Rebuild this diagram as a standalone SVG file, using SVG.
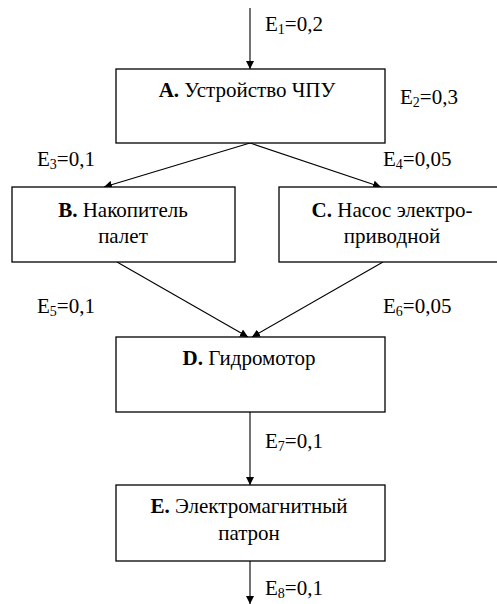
<svg xmlns="http://www.w3.org/2000/svg" width="497" height="604" viewBox="0 0 497 604">
<style>
.box{fill:#fff;stroke:#000;stroke-width:1.3}
.t{font-size:21px;fill:#000}
.s{font-size:14px}
.c{text-anchor:middle}
.ln{stroke:#000;stroke-width:1.1;fill:none}
</style>
<defs>
<marker id="ah" viewBox="0 0 10 10" refX="10" refY="5" markerWidth="8" markerHeight="8" markerUnits="userSpaceOnUse" orient="auto">
<path d="M0,0 L10,5 L0,10 z" fill="#000"/>
</marker>
</defs>
<rect width="497" height="604" fill="#fff"/>
<g id="connectors">
<line class="ln" x1="250" y1="8" x2="250" y2="69" marker-end="url(#ah)"/>
<line class="ln" x1="250" y1="143" x2="104" y2="187" marker-end="url(#ah)"/>
<line class="ln" x1="250" y1="143" x2="381" y2="187" marker-end="url(#ah)"/>
<line class="ln" x1="117" y1="262" x2="248" y2="337" marker-end="url(#ah)"/>
<line class="ln" x1="383" y1="262" x2="252" y2="337" marker-end="url(#ah)"/>
<line class="ln" x1="250" y1="412" x2="250" y2="485" marker-end="url(#ah)"/>
<line class="ln" x1="250" y1="561" x2="250" y2="604" marker-end="url(#ah)"/>
</g>
<g font-family="Liberation Serif, Times New Roman, Times, Tinos, DejaVu Serif, Noto Serif, FreeSerif, serif">
<g id="labels">
<text class="t" x="265" y="31">E<tspan class="s" dy="3">1</tspan><tspan dy="-3">=0,2</tspan></text>
<text class="t" x="400" y="104">E<tspan class="s" dy="3">2</tspan><tspan dy="-3">=0,3</tspan></text>
<text class="t" x="37" y="166">E<tspan class="s" dy="3">3</tspan><tspan dy="-3">=0,1</tspan></text>
<text class="t" x="383" y="166">E<tspan class="s" dy="3">4</tspan><tspan dy="-3">=0,05</tspan></text>
<text class="t" x="37" y="313">E<tspan class="s" dy="3">5</tspan><tspan dy="-3">=0,1</tspan></text>
<text class="t" x="383" y="313">E<tspan class="s" dy="3">6</tspan><tspan dy="-3">=0,05</tspan></text>
<text class="t" x="265" y="448">E<tspan class="s" dy="3">7</tspan><tspan dy="-3">=0,1</tspan></text>
<text class="t" x="265" y="595">E<tspan class="s" dy="3">8</tspan><tspan dy="-3">=0,1</tspan></text>
</g>
<g id="nodeA">
<rect class="box" x="116" y="69" width="269" height="74"/>
<text class="t c" x="247" y="97"><tspan font-weight="bold">А.</tspan> Устройство ЧПУ</text>
</g>
<g id="nodeB">
<rect class="box" x="12" y="187" width="223" height="75"/>
<text class="t c" x="123" y="217"><tspan font-weight="bold">В.</tspan> Накопитель</text>
<text class="t c" x="123" y="243">палет</text>
</g>
<g id="nodeC">
<rect class="box" x="279" y="187" width="222" height="75"/>
<text class="t c" x="392" y="217"><tspan font-weight="bold">С.</tspan> Насос электро-</text>
<text class="t c" x="392" y="243">приводной</text>
</g>
<g id="nodeD">
<rect class="box" x="116" y="337" width="269" height="75"/>
<text class="t c" x="249" y="365"><tspan font-weight="bold">D.</tspan> Гидромотор</text>
</g>
<g id="nodeE">
<rect class="box" x="116" y="485" width="269" height="76"/>
<text class="t c" x="249" y="513"><tspan font-weight="bold">Е.</tspan> Электромагнитный</text>
<text class="t c" x="249" y="540">патрон</text>
</g>
</g>
</svg>
